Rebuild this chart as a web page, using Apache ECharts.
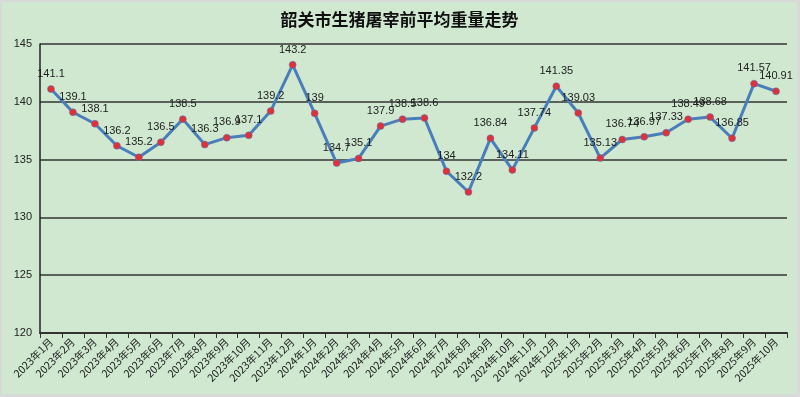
<!DOCTYPE html>
<html>
<head>
<meta charset="utf-8">
<script src="https://cdn.jsdelivr.net/npm/echarts@6/dist/echarts.min.js"></script>
<style>
html, body { margin: 0; padding: 0; background: #d9d9d9; }
#main { position: absolute; left: 2px; top: 2px; width: 795px; height: 392px; background: #cfe8cf; }
</style>
</head>
<body>
<div id="main"></div>
<script>
var months = [
    "2023年1月", "2023年2月", "2023年3月", "2023年4月", "2023年5月", "2023年6月",
    "2023年7月", "2023年8月", "2023年9月", "2023年10月", "2023年11月", "2023年12月",
    "2024年1月", "2024年2月", "2024年3月", "2024年4月", "2024年5月", "2024年6月",
    "2024年7月", "2024年8月", "2024年9月", "2024年10月", "2024年11月", "2024年12月",
    "2025年1月", "2025年2月", "2025年3月", "2025年4月", "2025年5月", "2025年6月",
    "2025年7月", "2025年8月", "2025年9月", "2025年10月"
];
var weights = [
    141.1, 139.1, 138.1, 136.2, 135.2, 136.5, 138.5, 136.3, 136.9, 137.1, 139.2, 143.2,
    139, 134.7, 135.1, 137.9, 138.5, 138.6, 134, 132.2, 136.84, 134.11, 137.74, 141.35,
    139.03, 135.13, 136.74, 136.97, 137.33, 138.49, 138.68, 136.85, 141.57, 140.91
];

var myChart = echarts.init(document.getElementById('main'));
myChart.setOption({
    backgroundColor: '#cfe8cf',
    animation: false,
    title: {
        text: '韶关市生猪屠宰前平均重量走势',
        left: 'center',
        top: 4,
        textStyle: {
            fontFamily: 'Noto Sans CJK SC',
            fontSize: 17,
            fontWeight: 'bold',
            color: '#111'
        }
    },
    grid: { left: 38, right: 10, top: 42, bottom: 61 },
    xAxis: {
        type: 'category',
        data: months,
        boundaryGap: true,
        axisLine: { lineStyle: { color: '#333', width: 2 } },
        axisTick: { show: true, alignWithLabel: false, length: 5, lineStyle: { color: '#333' } },
        axisLabel: {
            rotate: 45,
            interval: 0,
            fontSize: 10.5,
            color: '#222',
            fontFamily: 'Noto Sans CJK SC',
            margin: 7
        }
    },
    yAxis: {
        type: 'value',
        min: 120,
        max: 145,
        interval: 5,
        axisLine: { show: true, lineStyle: { color: '#222', width: 1.5 } },
        axisTick: { show: false },
        axisLabel: { fontSize: 11, color: '#222', margin: 8 },
        splitLine: { lineStyle: { color: '#333', width: 1.5 } }
    },
    series: [{
        type: 'line',
        data: weights,
        symbol: 'circle',
        symbolSize: 7,
        lineStyle: { color: '#4a7ebb', width: 3 },
        itemStyle: { color: '#e0303a', borderColor: '#4a7ebb', borderWidth: 0.5 },
        label: {
            show: true,
            position: 'top',
            distance: 6,
            fontSize: 11,
            color: '#222',
            fontFamily: 'Liberation Sans'
        }
    }]
});
</script>
</body>
</html>
